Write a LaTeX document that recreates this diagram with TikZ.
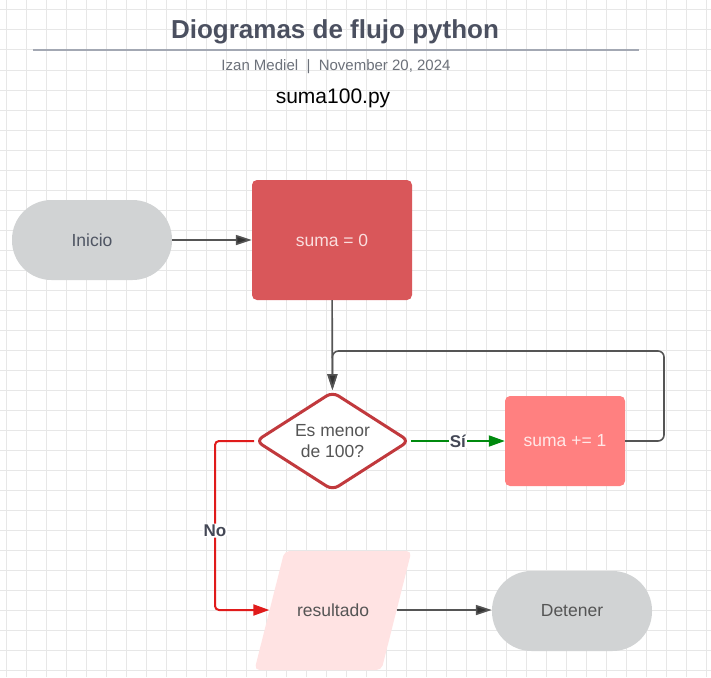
\documentclass[tikz,border=0pt]{standalone}
\usepackage{fontspec}
\setmainfont{Liberation Sans}
\usetikzlibrary{shapes.geometric,arrows.meta,calc}
\definecolor{gridc}{HTML}{E7E7E7}
\definecolor{titlec}{HTML}{4B5060}
\definecolor{subc}{HTML}{6C717A}
\definecolor{rulec}{HTML}{A3A8B3}
\definecolor{termfill}{HTML}{D1D3D4}
\definecolor{termtext}{HTML}{4F5563}
\definecolor{sOfill}{HTML}{D9575A}
\definecolor{sOtext}{HTML}{FADEDE}
\definecolor{sIfill}{HTML}{FF8080}
\definecolor{sItext}{HTML}{FFE8E8}
\definecolor{diac}{HTML}{C1393D}
\definecolor{resfill}{HTML}{FFE3E3}
\definecolor{greyt}{HTML}{555555}
\definecolor{connc}{HTML}{555555}
\definecolor{tipc}{HTML}{333333}
\definecolor{yesc}{HTML}{008A0E}
\definecolor{noc}{HTML}{E01B1B}
\begin{document}
\begin{tikzpicture}[x=1pt,y=-1pt,
  txt/.style={font=\fontsize{17.5}{21}\selectfont},
  term/.style={txt,fill=termfill,text=termtext,minimum width=160pt,minimum height=80pt,rounded corners=39.5pt,inner sep=0pt},
  procbox/.style={txt,rounded corners=5pt,inner sep=0pt},
  decbox/.style={txt,diamond,draw=diac,line width=3pt,fill=white,text=greyt,align=center,inner sep=0pt,minimum width=154pt,minimum height=99pt,aspect=1.56,rounded corners=7pt},
  iobox/.style={txt,text=greyt,minimum width=127pt,minimum height=119pt,inner sep=0pt},
  conn/.style={draw=connc,line width=1.6pt,-{Triangle[length=16pt,width=10pt,fill=tipc]}},
  yesconn/.style={draw=yesc,line width=1.8pt,-{Triangle[length=16pt,width=11pt]}},
  noconn/.style={draw=noc,line width=2pt,-{Triangle[length=16pt,width=11pt]},rounded corners=4pt},
  lbl/.style={font=\bfseries\fontsize{17}{20}\selectfont,text=titlec!90!black,fill=white,inner sep=1pt}
]
\useasboundingbox (0,0) rectangle (711,677);
\fill[white] (0,0) rectangle (711,677);
\foreach \x in {6,26,...,706} \draw[gridc,line width=1pt] (\x,0) -- (\x,677);
\foreach \y in {10,30,...,670} \draw[gridc,line width=1pt] (0,\y) -- (711,\y);

% header
\node[font=\bfseries\fontsize{26}{31}\selectfont,text=titlec] (title) at (335,32) {Diogramas de flujo python};
\coordinate (ruleL) at (33,50);
\coordinate (ruleR) at (639,50);
\draw[rulec,line width=2pt] (ruleL) -- (ruleR);
\node[font=\fontsize{15}{18}\selectfont,text=subc] (sub) at (336,67) {Izan Mediel \ |\ \ November 20, 2024};
\node[font=\fontsize{21}{25}\selectfont,text=black] (file) at (333,98) {suma100.py};

% nodes
\node[term] (ini) at (92,240) {Inicio};
\node[procbox,fill=sOfill,text=sOtext,minimum width=160pt,minimum height=120pt] (s0) at (332,240) {suma = 0};
\node[decbox] (dia) at (332.5,441) {Es menor\\de 100?};
\node[procbox,fill=sIfill,text=sItext,minimum width=120pt,minimum height=90pt] (s1) at (565,441) {suma += 1};
\coordinate (resC) at (333,610);
\fill[resfill,rounded corners=5pt] ($(resC)+(-48.5,-59)$) -- ($(resC)+(78.5,-59)$) -- ($(resC)+(48.5,60)$) -- ($(resC)+(-78.5,60)$) -- cycle;
\node[iobox] (res) at (resC) {resultado};
\node[term,text=greyt] (det) at (572,611) {Detener};

% connectors
\coordinate (loopR) at (664,351);
\coordinate (noC) at (215,610);
\draw[conn] (ini) -- (s0);
\draw[conn] (s0) -- (dia);
\draw[conn,rounded corners=6pt] (s1.east) -| (loopR) -| (dia.north);
\draw[yesconn] (dia.east) -- node[lbl]{Sí} (s1.west);
\draw[noconn] (dia.west) -| node[lbl,pos=0.765]{No} (noC) -- (res.west);
\draw[conn] (res.east) -- (res.east -| det.west);
\end{tikzpicture}
\end{document}
